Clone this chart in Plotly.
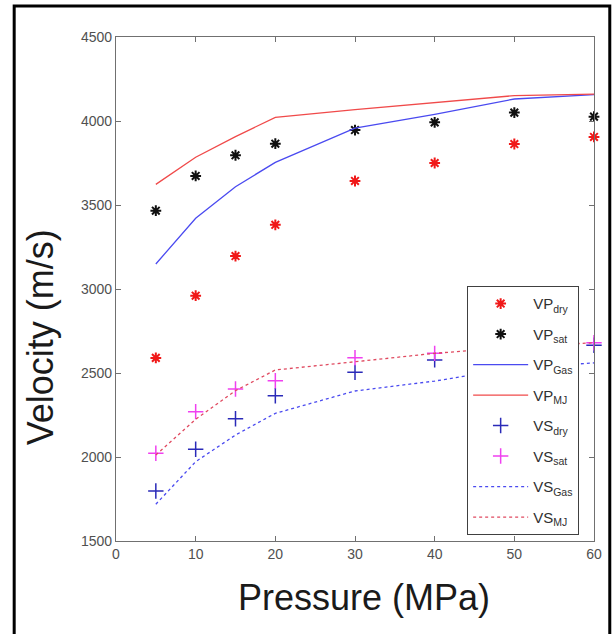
import plotly.graph_objects as go

# Confining pressure (MPa)
pressure = [5, 10, 15, 20, 30, 40, 50, 60]

# P-wave velocities (m/s)
vp_dry = [2590, 2960, 3196, 3382, 3643, 3750, 3863, 3905]
vp_sat = [3466, 3673, 3796, 3865, 3946, 3992, 4050, 4026]
vp_gas = [3149, 3421, 3609, 3754, 3957, 4040, 4131, 4157]
vp_mj = [3623, 3784, 3907, 4022, 4068, 4111, 4151, 4160]

# S-wave velocities (m/s)
vs_dry = [1798, 2046, 2228, 2365, 2504, 2578, 2640, 2665]
vs_sat = [2022, 2270, 2405, 2454, 2591, 2617, 2655, 2680]
vs_gas = [1719, 1972, 2131, 2260, 2393, 2452, 2530, 2560]
vs_mj = [2012, 2225, 2395, 2518, 2567, 2617, 2655, 2680]

x_ticks = [0, 10, 20, 30, 40, 50, 60]
y_ticks = [1500, 2000, 2500, 3000, 3500, 4000, 4500]

fig = go.Figure()


def add_markers(y, name, color, symbol, size, width, group):
    fig.add_trace(go.Scatter(
        x=pressure, y=y, name=name, mode="markers", legendgroup=group,
        cliponaxis=False,
        marker=dict(symbol=symbol, size=size, color=color,
                    line=dict(color=color, width=width)),
    ))


def add_line(y, name, color, dash, group):
    fig.add_trace(go.Scatter(
        x=pressure, y=y, name=name, mode="lines", legendgroup=group,
        cliponaxis=False,
        line=dict(color=color, width=1.3, dash=dash),
    ))


add_markers(vp_dry, "VP<sub>dry</sub>", "#f01818", "asterisk-open", 9, 2, "g1")
add_markers(vp_sat, "VP<sub>sat</sub>", "#101010", "asterisk-open", 9, 2, "g2")
add_line(vp_gas, "VP<sub>Gas</sub>", "#4a4af0", "solid", "g3")
add_line(vp_mj, "VP<sub>MJ</sub>", "#f04a4a", "solid", "g4")
add_markers(vs_dry, "VS<sub>dry</sub>", "#2a2ab8", "cross-thin-open", 11, 1.5, "g5")
add_markers(vs_sat, "VS<sub>sat</sub>", "#f040f0", "cross-thin-open", 11, 1.5, "g6")
add_line(vs_gas, "VS<sub>Gas</sub>", "#4a4af0", "3px,3px", "g7")
add_line(vs_mj, "VS<sub>MJ</sub>", "#e04a60", "3px,3px", "g8")

axis_common = dict(
    showgrid=False, zeroline=False, showline=True, linecolor="#707070",
    linewidth=1.3, mirror="allticks", ticks="inside", ticklen=5,
    tickcolor="#707070", tickwidth=1.3,
    tickfont=dict(family="Liberation Sans, Arial", size=14, color="#505050"),
)

fig.update_xaxes(range=[0, 60], tickvals=x_ticks,
                 ticktext=[str(v) for v in x_ticks], **axis_common)
fig.update_yaxes(range=[1500, 4500], tickvals=y_ticks,
                 ticktext=[str(v) for v in y_ticks], **axis_common)

title_font = dict(family="Liberation Sans, Arial", size=36, color="#1a1a1a")
fig.add_annotation(text="Pressure (MPa)", xref="paper", yref="paper",
                   x=0.518, y=-0.068, xanchor="center", yanchor="top",
                   showarrow=False, font=title_font)
fig.add_annotation(text="Velocity (m/s)", xref="paper", yref="paper",
                   x=-0.158, y=0.405, xanchor="center", yanchor="middle",
                   textangle=-90, showarrow=False, font=title_font)

# Outer frame around the figure
fig.add_shape(type="rect", xref="paper", yref="paper",
              x0=-0.213, x1=1.033, y0=-0.35, y1=1.0615,
              line=dict(color="#000000", width=3), layer="above")

fig.update_layout(
    width=613, height=634,
    margin=dict(l=116, r=19, t=37, b=93),
    paper_bgcolor="white", plot_bgcolor="white",
    showlegend=True,
    legend=dict(
        x=0.734, y=0.506, xanchor="left", yanchor="top",
        bgcolor="white", bordercolor="#404040", borderwidth=1.3,
        traceorder="grouped", tracegroupgap=8, itemwidth=55,
        font=dict(family="Liberation Sans, Arial", size=15, color="#303030"),
    ),
)

fig.write_html("out.html")
